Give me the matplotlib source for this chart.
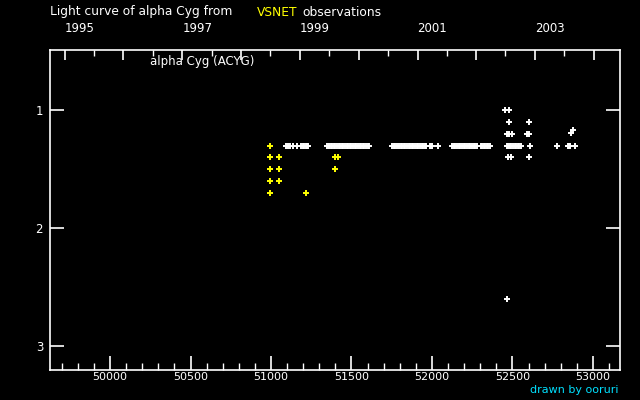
import datetime as dt
import matplotlib
matplotlib.use("Agg")
import matplotlib.pyplot as plt
from matplotlib.ticker import MultipleLocator, FixedLocator

# ---- data (JD - 2400000, visual magnitude) ----
# observations at magnitude 1.3 (dense runs)
white_jd_13 = [51095, 51105, 51115, 51137, 51163, 51188, 51197, 51206, 51215, 51224, 51232,
               51350, 51360, 51370, 51380, 51390, 51400, 51410, 51420, 51430, 51440, 51450,
               51460, 51470, 51480, 51490, 51500, 51510, 51520, 51530, 51540, 51550, 51560,
               51570, 51580, 51590, 51600, 51607,
               51753, 51763, 51773, 51783, 51795, 51805, 51815, 51825, 51835, 51845, 51855,
               51865, 51875, 51885, 51895, 51905, 51915, 51925, 51935, 51945, 51955, 51963,
               51988, 52002, 52035,
               52126, 52136, 52146, 52156, 52166, 52176, 52186, 52198, 52208, 52218, 52228,
               52238, 52248, 52258, 52268, 52281,
               52302, 52312, 52322, 52329, 52340, 52350, 52360,
               52463, 52473, 52483, 52493, 52503, 52513, 52523, 52533, 52543, 52551,
               52609, 52778, 52845, 52852, 52860, 52886]
# other white observations
white_jd_other = [52455, 52480, 52480, 52604, 52468, 52480, 52499, 52591, 52604,
                  52474, 52489, 52604, 52468, 52865, 52877]
white_mag_other = [1.0, 1.0, 1.1, 1.1, 1.2, 1.2, 1.2, 1.2, 1.2,
                   1.4, 1.4, 1.4, 2.6, 1.19, 1.17]

yellow_jd = [50996, 50996, 50996, 50996, 50996, 51052, 51052, 51052, 51219, 51399, 51399, 51418]
yellow_mag = [1.3, 1.4, 1.5, 1.6, 1.7, 1.4, 1.5, 1.6, 1.7, 1.4, 1.5, 1.4]

years = list(range(1995, 2005))
year_labels = ["1995", "1997", "1999", "2001", "2003"]
x_ticks = [50000, 50500, 51000, 51500, 52000, 52500, 53000]
y_ticks = [1, 2, 3]

# ---- figure ----
fig = plt.figure(figsize=(6.4, 4.0), dpi=100, facecolor="black")
ax = fig.add_axes([50 / 640, 30 / 400, 570 / 640, 320 / 400], facecolor="black")

mk = dict(linestyle="none", marker="+", markersize=4, markeredgewidth=1.4)
ax.plot(white_jd_13, [1.3] * len(white_jd_13), color="white", **mk)
ax.plot(white_jd_other, white_mag_other, color="white", **mk)
ax.plot(yellow_jd, yellow_mag, color="#ffff00", **mk)

ax.set_xlim(49627, 53168)
ax.set_ylim(3.2, 0.49)

for s in ax.spines.values():
    s.set_color("white")
    s.set_linewidth(1.2)

ax.xaxis.set_minor_locator(MultipleLocator(100))
ax.set_xticks(x_ticks)
ax.set_xticklabels([str(v) for v in x_ticks])
ax.set_yticks(y_ticks)
ax.set_yticklabels([str(v) for v in y_ticks])
ax.tick_params(axis="x", which="major", direction="in", length=10, width=1.2,
               color="white", labelcolor="white", labelsize=8, pad=1.5, top=False)
ax.tick_params(axis="x", which="minor", direction="in", length=5, width=1.0,
               color="white", top=False)
ax.tick_params(axis="y", which="major", direction="in", length=10, width=1.2,
               color="white", labelcolor="white", labelsize=8.5, right=True, pad=5)

# ---- top axis in calendar years ----
def to_jd(d):
    return (d - dt.datetime(1858, 11, 17)).days + 0.5

ax2 = ax.twiny()
ax2.set_xlim(ax.get_xlim())
major_pos = [to_jd(dt.datetime(y, 1, 1)) for y in years]
minor_pos = [to_jd(dt.datetime(y, 7, 1)) for y in years]
ax2.xaxis.set_major_locator(FixedLocator(major_pos))
ax2.xaxis.set_minor_locator(FixedLocator(minor_pos))
labels = [str(y) if str(y) in year_labels else "" for y in years]
ax2.set_xticklabels(labels)
for lab in ax2.get_xticklabels():
    lab.set_horizontalalignment("left")
ax2.tick_params(axis="x", which="major", direction="in", length=7, width=1.2,
                color="white", labelcolor="white", labelsize=8.5, pad=11)
ax2.tick_params(axis="x", which="minor", direction="in", length=4, width=1.0, color="white")
for s in ax2.spines.values():
    s.set_visible(False)

# ---- texts ----
fig.text(50 / 640, 1 - 12 / 400, "Light curve of alpha Cyg from", color="white",
         fontsize=8.8, va="center", ha="left")
fig.text(257 / 640, 1 - 12 / 400, "VSNET", color="#ffff00", fontsize=8.8, va="center", ha="left")
fig.text(302 / 640, 1 - 12 / 400, "observations", color="white", fontsize=8.8, va="center", ha="left")
fig.text(150 / 640, 1 - 62 / 400, "alpha Cyg (ACYG)", color="white", fontsize=8.5,
         va="center", ha="left")
fig.text(618 / 640, 1 - 390 / 400, "drawn by ooruri", color="#00e0ff", fontsize=8,
         va="center", ha="right")

fig.savefig("out.png", dpi=100, facecolor="black")
